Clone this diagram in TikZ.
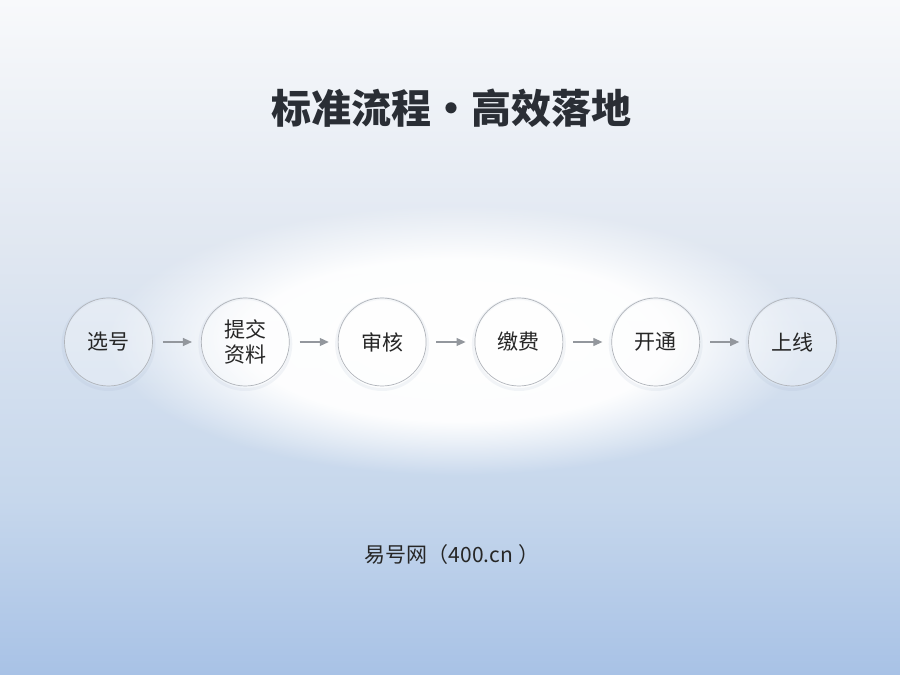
\documentclass[tikz,border=0pt]{standalone}
\usepackage{fontspec}
\setmainfont{Noto Sans CJK SC}
\usetikzlibrary{arrows.meta,fadings}
\definecolor{bgA}{HTML}{F8F9FB}
\definecolor{bgB}{HTML}{E0E7F1}
\definecolor{bgC}{HTML}{C6D7EC}
\definecolor{bgD}{HTML}{A8C2E6}
\definecolor{titlecol}{HTML}{2A2E35}
\definecolor{textcol}{HTML}{262626}
\definecolor{ringcol}{HTML}{B0B4BA}
\definecolor{arrowcol}{HTML}{93979D}
\definecolor{shadowcol}{HTML}{8FA3BF}
\pgfdeclareradialshading{glowshade}{\pgfpoint{0bp}{0bp}}{color(0bp)=(pgftransparent!0); color(15bp)=(pgftransparent!4); color(25bp)=(pgftransparent!100); color(50bp)=(pgftransparent!100)}
\pgfdeclarefading{glow}{\pgfuseshading{glowshade}}
\tikzset{
  stepcircle/.style={circle, draw=ringcol, line width=0.7pt, fill=white, fill opacity=0.3, text opacity=1,
    minimum size=88pt, inner sep=0pt, text=textcol, font=\fontsize{21pt}{25pt}\selectfont, align=center},
  circleshadow/.style={draw=shadowcol, line width=3pt, opacity=0.10},
  flowarrow/.style={draw=arrowcol, line width=1.1pt, -{Triangle[length=9pt,width=8pt]}, shorten <=10pt, shorten >=9pt},
}
\begin{document}
\begin{tikzpicture}[x=1pt,y=1pt]
\useasboundingbox (0,0) rectangle (900,675);
\shade[top color=bgA, bottom color=bgB] (0,675) rectangle (900,425);
\shade[top color=bgB, bottom color=bgC] (0,425.2) rectangle (900,175);
\shade[top color=bgC, bottom color=bgD] (0,175.2) rectangle (900,0);
\fill[white, path fading=glow] (458,335) ellipse (350 and 135);
\node[font=\fontsize{40pt}{44pt}\selectfont\bfseries, text=titlecol] (title) at (451,567) {标准流程·高效落地};
\foreach \k in {0,...,5} {
  \draw[circleshadow] (108.5+136.8*\k,331) circle (45.5pt);
}
\foreach \i/\t [count=\k from 0] in {s1/选号, s2/{提交\\资料}, s3/审核, s4/缴费, s5/开通, s6/上线} {
  \node[stepcircle] (\i) at (108.5+136.8*\k,333) {\t};
}
\foreach \a/\b in {s1/s2, s2/s3, s3/s4, s4/s5, s5/s6} {
  \draw[flowarrow] (\a) -- (\b);
}
\node[font=\fontsize{21pt}{25pt}\selectfont, text=textcol] (footer) at (452,120) {易号网（400.cn\hspace{5pt}）};
\end{tikzpicture}
\end{document}
